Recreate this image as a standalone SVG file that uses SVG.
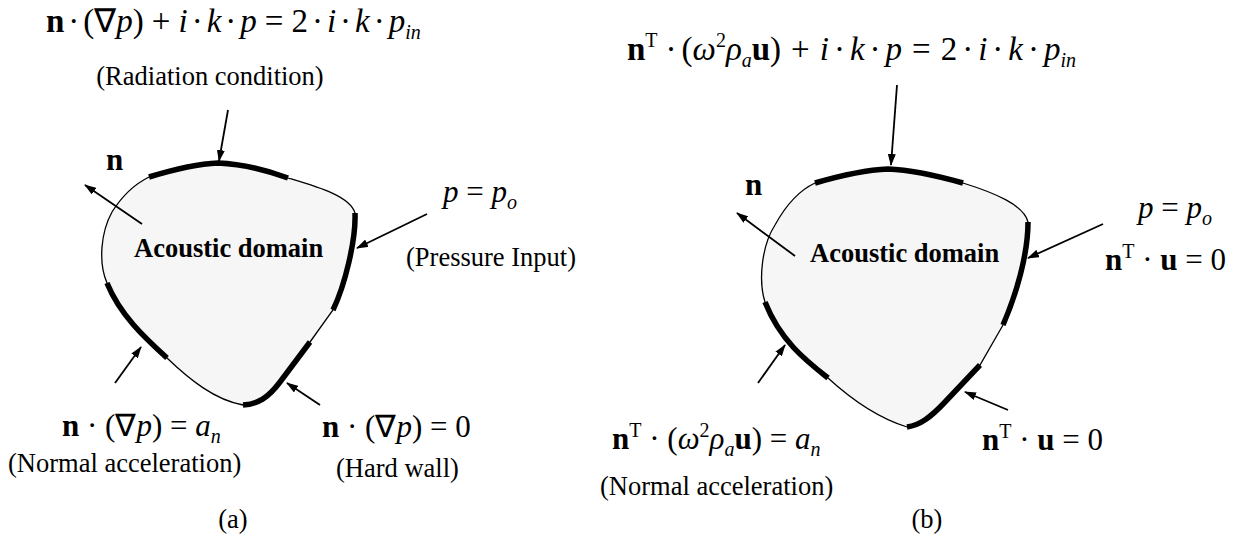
<svg xmlns="http://www.w3.org/2000/svg" width="1233" height="554" viewBox="0 0 1233 554">
<style>
text{font-family:"Liberation Serif","Times New Roman",serif;fill:#000}
.m{font-size:31px}
.mt{font-size:33px}
.s{font-size:20px}
.l{font-size:26.5px}
.b{font-weight:bold}
.i{font-style:italic}
.dom{fill:#f6f6f6;stroke:#000;stroke-width:1.3}
.thick{fill:none;stroke:#000;stroke-width:5.5;stroke-linecap:butt}
.arr{stroke:#000;stroke-width:1.8;fill:none;marker-end:url(#ah)}
</style>
<defs>
<marker id="ah" viewBox="0 0 12 8" refX="11" refY="4" markerWidth="12" markerHeight="8" markerUnits="userSpaceOnUse" orient="auto">
<path d="M0,0 L12,4 L0,8 Z" fill="#000"/>
</marker>
</defs>

<g id="domain-a">
<path class="dom" d="M149,177 C172,170 195,164 218,163 C242,164 266,170 288,178 C318,187 350,196 355,213 C356,240 345,285 333,310 L310,342 L280,382 C268,398 258,404 243,405 C215,400 190,380 167,358 C145,338 120,315 107,283 C98,262 101,232 112,212 C122,196 135,184 149,177 Z"/>
<path class="thick" d="M149,177 C172,170 195,164 218,163 C242,164 266,170 288,178"/>
<path class="thick" d="M355,213 C356,240 345,285 333,310"/>
<path class="thick" d="M310,342 L280,382 C268,398 258,404 243,405"/>
<path class="thick" d="M167,358 C145,338 120,315 107,283"/>
<text class="l b" x="134" y="257">Acoustic domain</text>
</g>

<g id="domain-b">
<path class="dom" d="M815,183 C839,176 864,170 888,169 C913,170 938,176 963,183 C995,193 1024,205 1028,222 C1028,255 1016,295 1003,325 L980,365 L945,402 C930,418 920,425 907,427 C878,418 852,400 828,378 C805,360 780,340 765,302 C758,280 762,245 775,225 C786,205 800,190 815,183 Z"/>
<path class="thick" d="M815,183 C839,176 864,170 888,169 C913,170 938,176 963,183"/>
<path class="thick" d="M1028,222 C1028,255 1016,295 1003,325"/>
<path class="thick" d="M980,365 L945,402 C930,418 920,425 907,427"/>
<path class="thick" d="M828,378 C805,360 780,340 765,302"/>
<text class="l b" x="810" y="262">Acoustic domain</text>
</g>

<g id="connectors">
<line class="arr" x1="228" y1="110" x2="219" y2="161"/>
<line class="arr" x1="142" y1="224" x2="85" y2="185"/>
<line class="arr" x1="427" y1="214" x2="357" y2="248"/>
<line class="arr" x1="115" y1="383" x2="141" y2="347"/>
<line class="arr" x1="320" y1="405" x2="287" y2="383"/>
<line class="arr" x1="897" y1="85" x2="891" y2="165"/>
<line class="arr" x1="795" y1="256" x2="737" y2="213"/>
<line class="arr" x1="1103" y1="224" x2="1028" y2="258"/>
<line class="arr" x1="758" y1="383" x2="785" y2="345"/>
<line class="arr" x1="1008" y1="410" x2="965" y2="392"/>
</g>

<g id="labels-a">
<text class="mt" x="46" y="32"><tspan class="b">n</tspan><tspan dx="4">·</tspan><tspan dx="4">(∇</tspan><tspan class="i">p</tspan>)<tspan dx="8">+</tspan><tspan class="i" dx="8">i</tspan><tspan dx="4">·</tspan><tspan class="i" dx="4">k</tspan><tspan dx="4">·</tspan><tspan class="i" dx="4">p</tspan><tspan dx="8">=</tspan><tspan dx="8">2</tspan><tspan dx="4">·</tspan><tspan class="i" dx="4">i</tspan><tspan dx="4">·</tspan><tspan class="i" dx="4">k</tspan><tspan dx="4">·</tspan><tspan class="i" dx="4">p</tspan><tspan class="i s" dy="7">in</tspan></text>
<text class="l" x="210" y="85" text-anchor="middle">(Radiation condition)</text>
<text class="m b" x="106" y="170">n</text>
<text class="m" x="443" y="202"><tspan class="i">p</tspan> = <tspan class="i">p</tspan><tspan class="i s" dy="7">o</tspan></text>
<text class="l" x="406" y="266">(Pressure Input)</text>
<text class="m" x="62" y="436"><tspan class="b">n</tspan> · (∇<tspan class="i">p</tspan>) = <tspan class="i">a</tspan><tspan class="i s" dy="7">n</tspan></text>
<text class="l" x="8" y="472">(Normal acceleration)</text>
<text class="m" x="322" y="437"><tspan class="b">n</tspan> · (∇<tspan class="i">p</tspan>) = 0</text>
<text class="l" x="336" y="477">(Hard wall)</text>
<text class="l" x="233" y="528" text-anchor="middle">(a)</text>
</g>

<g id="labels-b">
<text class="mt" x="627" y="60"><tspan class="b">n</tspan><tspan class="s" dy="-13">T</tspan><tspan dy="13" dx="8">·</tspan><tspan dx="5">(</tspan><tspan class="i">ω</tspan><tspan class="s" dy="-13">2</tspan><tspan class="i" dy="13">ρ</tspan><tspan class="i s" dy="7">a</tspan><tspan class="b" dy="-7">u</tspan>)<tspan dx="10">+</tspan><tspan class="i" dx="10">i</tspan><tspan dx="5">·</tspan><tspan class="i" dx="5">k</tspan><tspan dx="5">·</tspan><tspan class="i" dx="5">p</tspan><tspan dx="10">=</tspan><tspan dx="10">2</tspan><tspan dx="5">·</tspan><tspan class="i" dx="5">i</tspan><tspan dx="5">·</tspan><tspan class="i" dx="5">k</tspan><tspan dx="5">·</tspan><tspan class="i" dx="5">p</tspan><tspan class="i s" dy="7">in</tspan></text>
<text class="m b" x="745" y="195">n</text>
<text class="m" x="1138" y="218"><tspan class="i">p</tspan> = <tspan class="i">p</tspan><tspan class="i s" dy="7">o</tspan></text>
<text class="m" x="1105" y="270"><tspan class="b">n</tspan><tspan class="s" dy="-12">T</tspan><tspan dy="12"> · </tspan><tspan class="b">u</tspan> = 0</text>
<text class="m" x="612" y="449"><tspan class="b">n</tspan><tspan class="s" dy="-12">T</tspan><tspan dy="12"> · (</tspan><tspan class="i">ω</tspan><tspan class="s" dy="-12">2</tspan><tspan class="i" dy="12">ρ</tspan><tspan class="i s" dy="7">a</tspan><tspan class="b" dy="-7">u</tspan>) = <tspan class="i">a</tspan><tspan class="i s" dy="7">n</tspan></text>
<text class="l" x="600" y="495">(Normal acceleration)</text>
<text class="m" x="982" y="450"><tspan class="b">n</tspan><tspan class="s" dy="-12">T</tspan><tspan dy="12"> · </tspan><tspan class="b">u</tspan> = 0</text>
<text class="l" x="927" y="528" text-anchor="middle">(b)</text>
</g>
</svg>
